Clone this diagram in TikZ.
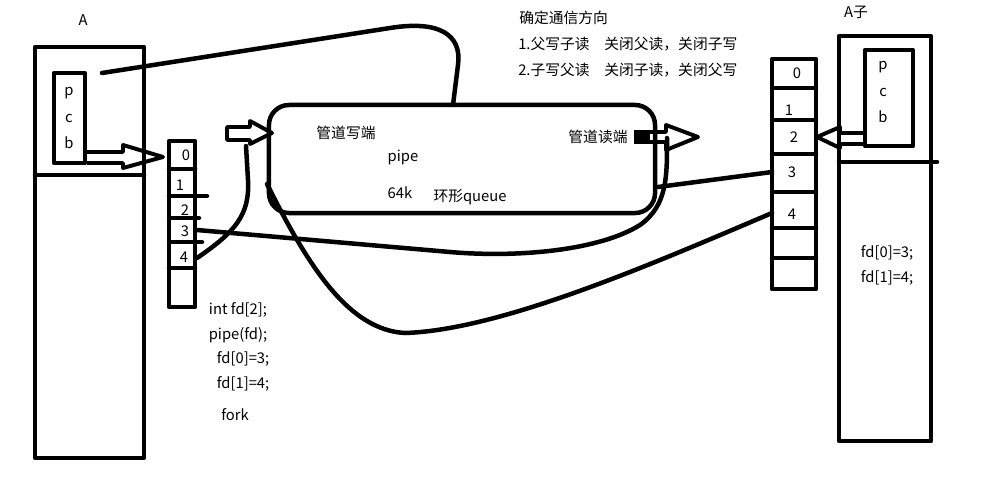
\documentclass[tikz,border=0pt]{standalone}
\usepackage{fontspec}
\setmainfont{Noto Sans CJK SC}
\usetikzlibrary{positioning}
\tikzstyle{inkline} = [line width=3.2pt, draw=black, line join=round, line cap=round]
\tikzstyle{fatarrow} = [line width=2.8pt, draw=black, line join=round]
\tikzstyle{note} = [font=\fontsize{10.5}{12}\selectfont, inner sep=0pt]
\tikzstyle{pipebox} = [rectangle, draw=black, line width=3.2pt,
rounded corners=0.5cm, minimum width=9.65cm, minimum height=2.7cm]

\begin{document}
\begin{tikzpicture}[x=0.025cm, y=-0.025cm]
    \useasboundingbox (0,0) rectangle (1004,488);

    % parent process A
    \node[note] (nameA) at (83,20) {A};
    \draw[inkline] (35,47) rectangle (144,458);
    \draw[inkline] (35,175) -- (144,175);
    \draw[inkline] (54,73) rectangle (85,163);
    \foreach \ch [count=\i] in {p,c,b}
        \node[note] (pcbA\i) at (69,68+25*\i) {\ch};

    % fd table of A
    \draw[inkline] (169,141) rectangle (195,307);
    \foreach \y/\e in {169/195, 196/207, 218/199, 242/202, 268/195}
        \draw[inkline] (169,\y) -- (\e,\y);
    \foreach \n/\x/\y in {0/186/155, 1/180/185, 2/185/210, 3/185/231, 4/184/257}
        \node[note] (lfd\n) at (\x,\y) {\n};
    \coordinate (lfd3end) at (197,230);
    \coordinate (lfd4end) at (197,258);

    \node[note] (codeA1) at (238,310) {int fd[2];};
    \node[note] (codeA2) at (238,335) {pipe(fd);};
    \node[note] (codeA3) at (243,359) {fd[0]=3;};
    \node[note] (codeA4) at (243,384) {fd[1]=4;};
    \node[note] (codeA5) at (235,415) {fork};

    % pcb -> fd table
    \draw[fatarrow] (87,152) -- (123,152) -- (123,145) -- (163,157)
        -- (123,168) -- (123,163) -- (87,163);

    % the pipe
    \node[pipebox] (pipe) at (462,159) {};
    \coordinate (pipeTop) at (453,105);
    \coordinate (pipeWrite) at (246,146);
    \coordinate (pipeRead) at (667,138);
    \coordinate (pipeLeft) at (267,184);
    \coordinate (pipeRight) at (658,187);
    \node[note] (writeEnd) at (346,133) {管道写端};
    \node[note] (readEnd) at (598,137) {管道读端};
    \node[note] (pipeName) at (403,157) {pipe};
    \node[note] (pipeSize) at (400,193) {64k};
    \node[note] (pipeQueue) at (470,197) {环形queue};

    \draw[fatarrow] (227,127) -- (250,127) -- (250,121) -- (272,133)
        -- (250,144) -- (250,140) -- (227,140) -- cycle;
    \fill (634,130) rectangle (650,144);
    \draw[fatarrow] (636,132) -- (666,132) -- (666,125) -- (698,137)
        -- (666,150) -- (666,142) -- (636,142) -- cycle;

    % direction notes
    \node[note, anchor=west] (dirTitle) at (519,18) {确定通信方向};
    \node[note, anchor=west] (dirOne) at (518,44) {1.父写子读\hspace{1em}关闭父读，关闭子写};
    \node[note, anchor=west] (dirTwo) at (518,70) {2.子写父读\hspace{1em}关闭子读，关闭父写};

    % child process
    \node[note] (nameChild) at (856,12) {A子};
    \draw[inkline] (839,36) rectangle (931,441);
    \draw[inkline] (839,162) -- (937,162);
    \draw[inkline] (865,50) rectangle (913,146);
    \foreach \ch [count=\i] in {p,c,b}
        \node[note] (pcbC\i) at (883,42+25*\i) {\ch};
    \node[note] (codeC1) at (887,253) {fd[0]=3;};
    \node[note] (codeC2) at (887,278) {fd[1]=4;};

    % fd table of the child
    \draw[inkline] (772,59) rectangle (816,289);
    \foreach \y in {88,120,154,192,228,258}
        \draw[inkline] (772,\y) -- (816,\y);
    \foreach \n/\x/\y in {0/797/73, 1/789/110, 2/794/137, 3/792/172, 4/792/214}
        \node[note] (rfd\n) at (\x,\y) {\n};
    \coordinate (rfd3end) at (772,172);
    \coordinate (rfd4end) at (772,213);

    \draw[fatarrow] (866,133) -- (840,133) -- (840,127) -- (817,137)
        -- (840,148) -- (840,144) -- (866,144);

    % connectors
    \draw[inkline] (102,73) -- (390,28) .. controls (440,20) and (462,35) .. (458,65) -- (pipeTop);
    \draw[inkline] (lfd4end) .. controls (235,232) and (250,215) .. (248,180) -- (pipeWrite);
    \draw[inkline] (lfd3end) -- (450,252) .. controls (520,258) and (600,250) .. (640,225)
        .. controls (668,205) and (667,175) .. (pipeRead);
    \draw[inkline] (pipeLeft) .. controls (310,270) and (350,330) .. (405,333)
        .. controls (500,330) and (650,265) .. (rfd4end);
    \draw[inkline] (rfd3end) -- (pipeRight);
\end{tikzpicture}
\end{document}
